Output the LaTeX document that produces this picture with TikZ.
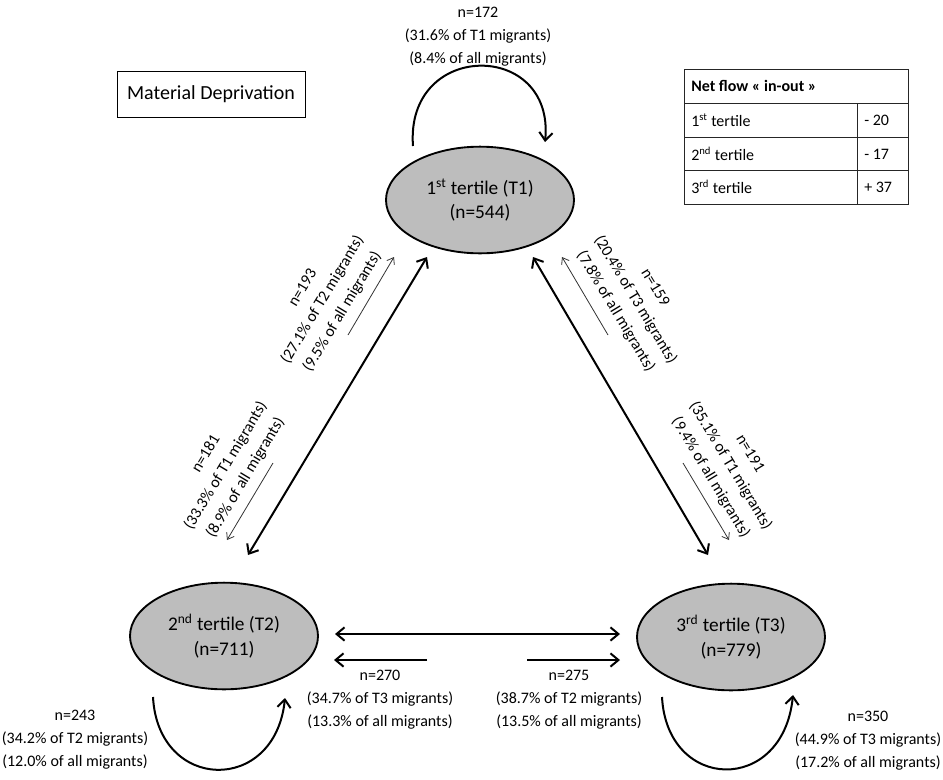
\documentclass[tikz,border=0pt]{standalone}
\usepackage{fontspec}
\setmainfont{Carlito}
\usetikzlibrary{arrows.meta,shapes.geometric}
\definecolor{ellgray}{HTML}{BDBDBD}
\tikzstyle{tertile} = [draw, ellipse, fill=ellgray, line width=1.4pt,
  minimum width=141pt, minimum height=80pt, inner sep=0pt, align=center,
  font=\fontsize{14.5}{18.5}\selectfont]
\tikzstyle{biarrow} = [line width=1.5pt,
  {Straight Barb[length=6pt,width=10pt]}-{Straight Barb[length=6pt,width=10pt]}]
\tikzstyle{flow} = [line width=1.5pt, -{Straight Barb[length=6pt,width=10pt]}]
\tikzstyle{thinflow} = [line width=0.6pt, black!80, -{Straight Barb[length=4.5pt,width=6.5pt]}]
\tikzstyle{lbl} = [align=center, inner sep=0pt, font=\fontsize{12}{17.25}\selectfont]
\tikzstyle{cell} = [anchor=west, inner sep=0pt, font=\fontsize{12}{14}\selectfont]

\begin{document}
\begin{tikzpicture}[x=0.75pt, y=-0.75pt]
    \useasboundingbox (0,0) rectangle (943,779);
    \node[draw, line width=0.6pt, minimum width=141pt, minimum height=34pt,
        font=\fontsize{15}{18}\selectfont] (title) at (211,94.5) {Material Deprivation};

    \draw[line width=0.6pt, black!85] (684,69) rectangle (908,204)
        (684,103) -- (908,103) (684,137) -- (908,137) (684,170) -- (908,170)
        (857,103) -- (857,204);
    \node[cell] (hdr) at (691,86) {\bfseries Net flow « in-out »};
    \node[cell] (r1) at (691,120) {1\textsuperscript{st} tertile};
    \node[cell] (r2) at (691,154) {2\textsuperscript{nd} tertile};
    \node[cell] (r3) at (691,187) {3\textsuperscript{rd} tertile};
    \node[cell] (v1) at (864,120) {- 20};
    \node[cell] (v2) at (864,154) {- 17};
    \node[cell] (v3) at (864,187) {+ 37};

    \node[tertile] (t1) at (480,200) {1\textsuperscript{st} tertile (T1)\\(n=544)};
    \node[tertile] (t2) at (224,636) {2\textsuperscript{nd} tertile (T2)\\(n=711)};
    \node[tertile] (t3) at (731,637) {3\textsuperscript{rd} tertile (T3)\\(n=779)};

    \coordinate (a12u) at (427,257);
    \coordinate (a12d) at (248,555);
    \coordinate (a13u) at (533,257);
    \coordinate (a13d) at (708,555);
    \coordinate (a23l) at (335,634);
    \coordinate (a23r) at (620,634);
    \draw[biarrow] (a12u) -- (a12d);
    \draw[biarrow] (a13u) -- (a13d);
    \draw[biarrow] (a23l) -- (a23r);

    \coordinate (f21s) at (348,335);
    \coordinate (f21e) at (394,257);
    \coordinate (f12s) at (273,463);
    \coordinate (f12e) at (227,540);
    \coordinate (f31s) at (608,335);
    \coordinate (f31e) at (562,257);
    \coordinate (f13s) at (683,463);
    \coordinate (f13e) at (729,540);
    \draw[thinflow] (f21s) -- (f21e);
    \draw[thinflow] (f12s) -- (f12e);
    \draw[thinflow] (f31s) -- (f31e);
    \draw[thinflow] (f13s) -- (f13e);

    \coordinate (f32s) at (427,660);
    \coordinate (f32e) at (334,660);
    \coordinate (f23s) at (527,660);
    \coordinate (f23e) at (620,660);
    \draw[flow] (f32s) -- (f32e);
    \draw[flow] (f23s) -- (f23e);

    \coordinate (s1a) at (413,146);
    \coordinate (s1b) at (545,142);
    \coordinate (s2a) at (153,697);
    \coordinate (s2b) at (285,698);
    \coordinate (s3a) at (662,697);
    \coordinate (s3b) at (793,695);
    \draw[flow] (s1a) .. controls (405,40) and (555,40) .. (s1b);
    \draw[flow] (s2a) .. controls (158,792) and (275,795) .. (s2b);
    \draw[flow] (s3a) .. controls (667,792) and (783,795) .. (s3b);

    \node[lbl] (l11) at (478,37) {n=172\\(31.6\% of T1 migrants)\\(8.4\% of all migrants)};
    \node[lbl, rotate=59] (l21) at (323,300) {n=193\\(27.1\% of T2 migrants)\\(9.5\% of all migrants)};
    \node[lbl, rotate=59] (l12) at (226,466) {n=181\\(33.3\% of T1 migrants)\\(8.9\% of all migrants)};
    \node[lbl, rotate=-59] (l31) at (635,300) {n=159\\(20.4\% of T3 migrants)\\(7.8\% of all migrants)};
    \node[lbl, rotate=-59] (l13) at (730,466) {n=191\\(35.1\% of T1 migrants)\\(9.4\% of all migrants)};
    \node[lbl] (l22) at (75,740) {n=243\\(34.2\% of T2 migrants)\\(12.0\% of all migrants)};
    \node[lbl] (l32) at (380,700) {n=270\\(34.7\% of T3 migrants)\\(13.3\% of all migrants)};
    \node[lbl] (l23) at (569,700) {n=275\\(38.7\% of T2 migrants)\\(13.5\% of all migrants)};
    \node[lbl] (l33) at (868,741) {n=350\\(44.9\% of T3 migrants)\\(17.2\% of all migrants)};
\end{tikzpicture}
\end{document}
